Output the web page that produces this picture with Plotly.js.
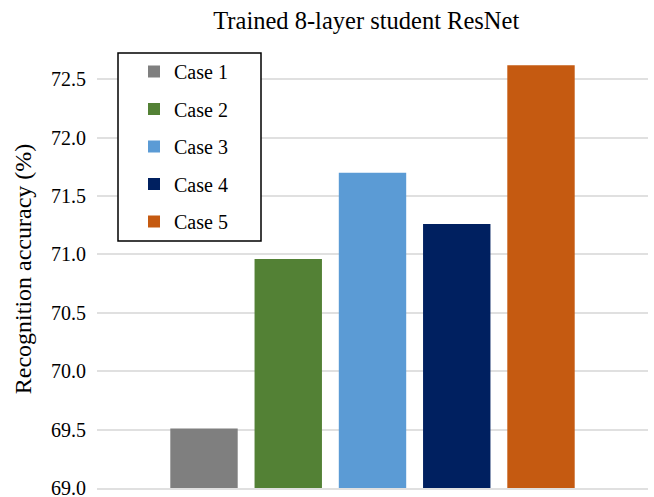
<!DOCTYPE html>
<html>
<head>
<meta charset="utf-8">
<script src="https://cdn.plot.ly/plotly-3.0.1.min.js"></script>
<style>html,body{margin:0;padding:0;background:#fff;}#chart{width:654px;height:497px;}</style>
</head>
<body>
<div id="chart"></div>
<script>
const categories = ["Case 1", "Case 2", "Case 3", "Case 4", "Case 5"];
const accuracy = [69.51, 70.96, 71.70, 71.26, 72.62];
const colors = ["#7f7f7f", "#538135", "#5b9bd5", "#002060", "#c55a11"];
const yTicks = [69.0, 69.5, 70.0, 70.5, 71.0, 71.5, 72.0, 72.5];

const FONT = "Liberation Serif";

const traces = categories.map((c, i) => ({
  type: "bar",
  name: c,
  x: [c],
  y: [accuracy[i]],
  marker: {color: colors[i]},
  legendgroup: "g" + i,
  hoverinfo: "x+y"
}));

// plot-area pixel geometry (for placing the legend frame)
const W = 654, H = 497, M = {l: 97, r: 6, t: 50, b: 9};
const pw = W - M.l - M.r, ph = H - M.t - M.b;
const px = x => (x - M.l) / pw;
const py = y => 1 - (y - M.t) / ph;

const layout = {
  width: W,
  height: H,
  margin: {l: M.l, r: M.r, t: M.t, b: M.b, pad: 0},
  paper_bgcolor: "#ffffff",
  plot_bgcolor: "#ffffff",
  font: {family: FONT, color: "#000000", size: 20},
  title: {
    text: "Trained 8-layer student ResNet",
    font: {family: FONT, size: 24.5, color: "#000000"},
    x: 0.56, xanchor: "center",
    y: 0.958, yref: "container", yanchor: "middle"
  },
  barmode: "overlay",
  bargap: 0.2,
  showlegend: true,
  legend: {
    x: px(134), y: py(52), xanchor: "left", yanchor: "top",
    borderwidth: 0,
    bgcolor: "rgba(0,0,0,0)",
    font: {family: FONT, size: 20, color: "#000000"},
    traceorder: "grouped",
    tracegroupgap: 8.5
  },
  shapes: [{
    type: "rect", xref: "paper", yref: "paper", layer: "above",
    x0: px(118), x1: px(261), y0: py(241), y1: py(53),
    line: {color: "#000000", width: 1.5},
    fillcolor: "#ffffff"
  }],
  xaxis: {
    type: "category",
    categoryorder: "array",
    categoryarray: categories,
    range: [-1.27, 5.27],
    showticklabels: false,
    showgrid: false,
    zeroline: false,
    showline: true,
    linecolor: "#e0e0e0",
    linewidth: 2,
    ticks: "",
    fixedrange: true
  },
  yaxis: {
    range: [69.0, 72.75],
    tickvals: yTicks,
    ticktext: yTicks.map(v => v.toFixed(1)),
    showgrid: true,
    gridcolor: "#e0e0e0",
    gridwidth: 2,
    zeroline: false,
    showline: false,
    ticks: "outside",
    ticklen: 6,
    tickcolor: "rgba(0,0,0,0)",
    ticklabeloverflow: "allow",
    tickfont: {family: FONT, size: 20, color: "#000000"},
    title: {
      text: "Recognition accuracy (%)",
      font: {family: FONT, size: 24, color: "#000000"},
      standoff: 12
    },
    automargin: false,
    fixedrange: true
  }
};

Plotly.newPlot("chart", traces, layout, {displayModeBar: false, staticPlot: true});
</script>
</body>
</html>
